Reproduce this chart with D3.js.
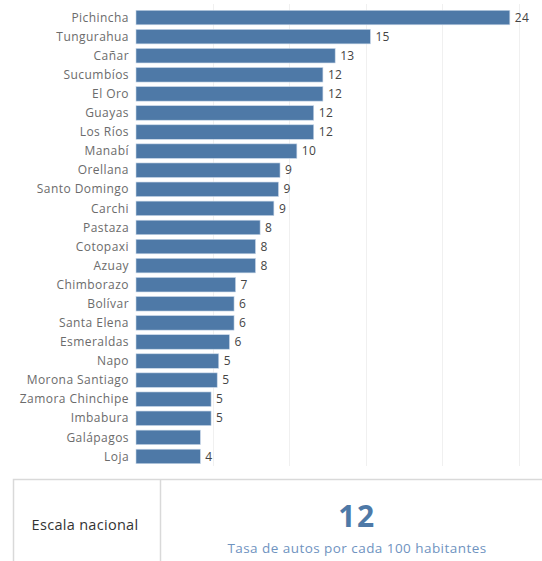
<!DOCTYPE html>
<html>
<head>
<meta charset="utf-8">
<script src="https://cdn.jsdelivr.net/npm/d3@7"></script>
<style>
  html, body { margin: 0; padding: 0; background: #fff; }
  svg { display: block; font-family: "Open Sans", "Noto Sans", sans-serif; }
</style>
</head>
<body>
<svg id="chart" width="542" height="561"></svg>
<script>
const provinces = ["Pichincha","Tungurahua","Cañar","Sucumbíos","El Oro","Guayas","Los Ríos","Manabí","Orellana","Santo Domingo","Carchi","Pastaza","Cotopaxi","Azuay","Chimborazo","Bolívar","Santa Elena","Esmeraldas","Napo","Morona Santiago","Zamora Chinchipe","Imbabura","Galápagos","Loja"];
const rates = [24.4,15.3,13.0,12.2,12.2,11.6,11.6,10.5,9.4,9.3,9.0,8.1,7.8,7.8,6.5,6.4,6.4,6.1,5.4,5.3,4.9,4.9,4.2,4.2];
const valueLabels = ["24","15","13","12","12","12","12","10","9","9","9","8","8","8","7","6","6","6","5","5","5","5","","4"];
const gridTicks = [5,10,15,20,25];
const nationalRate = "12";
const nationalLabel = "Escala nacional";
const nationalCaption = "Tasa de autos por cada 100 habitantes";

const svg = d3.select("#chart");
const x = d3.scaleLinear().domain([0, 26.5]).range([136, 542]);
const y = d3.scaleBand().domain(provinces).range([8, 466]).paddingInner(0.24).paddingOuter(0.12);

// gridlines
svg.append("g").selectAll("line").data(gridTicks).join("line")
  .attr("x1", d => Math.round(x(d)) + 0.5).attr("x2", d => Math.round(x(d)) + 0.5)
  .attr("y1", 4).attr("y2", 466)
  .attr("stroke", "#f0f0f0").attr("stroke-width", 1);

// bars
svg.append("g").selectAll("rect").data(provinces).join("rect")
  .attr("x", x(0))
  .attr("y", d => y(d))
  .attr("width", (d, i) => x(rates[i]) - x(0))
  .attr("height", y.bandwidth())
  .attr("fill", "#4e79a7")
  .attr("stroke", "#c7d6e8").attr("stroke-width", 0.6);

// category labels
svg.append("g").selectAll("text").data(provinces).join("text")
  .attr("x", 129)
  .attr("y", d => y(d) + y.bandwidth() / 2)
  .attr("dy", "0.35em")
  .attr("text-anchor", "end")
  .attr("font-size", "12px")
  .attr("fill", "#6b6b6b")
  .attr("letter-spacing", "0.45px")
  .text(d => d);

// value labels
svg.append("g").selectAll("text").data(provinces).join("text")
  .attr("x", (d, i) => x(rates[i]) + 5)
  .attr("y", d => y(d) + y.bandwidth() / 2)
  .attr("dy", "0.35em")
  .attr("font-size", "12px")
  .attr("fill", "#444")
  .attr("letter-spacing", "0.3px")
  .text((d, i) => valueLabels[i]);

// bottom panel
const panel = svg.append("g");
panel.append("rect")
  .attr("x", 13.5).attr("y", 479.5).attr("width", 560).attr("height", 100)
  .attr("fill", "none").attr("stroke", "#d9d9d9").attr("stroke-width", 1.5);
panel.append("line")
  .attr("x1", 160.5).attr("x2", 160.5).attr("y1", 479.5).attr("y2", 561)
  .attr("stroke", "#d9d9d9").attr("stroke-width", 1.5);
panel.append("text")
  .attr("x", 85).attr("y", 525).attr("dy", "0.35em")
  .attr("text-anchor", "middle").attr("font-size", "14.5px").attr("fill", "#333")
  .attr("letter-spacing", "0.3px")
  .text(nationalLabel);
panel.append("text")
  .attr("x", 357).attr("y", 526.5)
  .attr("text-anchor", "middle").attr("font-size", "30px").attr("font-weight", "bold")
  .attr("fill", "#4e79a7").attr("letter-spacing", "1.5px")
  .text(nationalRate);
panel.append("text")
  .attr("x", 357).attr("y", 548).attr("dy", "0.35em")
  .attr("text-anchor", "middle").attr("font-size", "13.5px").attr("fill", "#6f93bf")
  .attr("letter-spacing", "0.45px")
  .text(nationalCaption);
</script>
</body>
</html>
